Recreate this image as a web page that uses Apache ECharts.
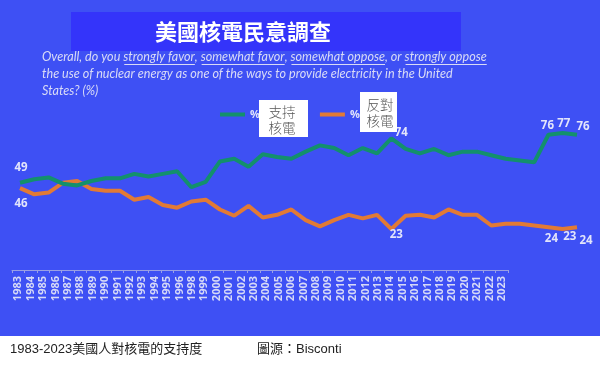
<!DOCTYPE html>
<html>
<head>
<meta charset="utf-8">
<script src="https://cdn.jsdelivr.net/npm/echarts@6/dist/echarts.min.js"></script>
<style>html,body{margin:0;padding:0;background:#fff}#c{width:600px;height:368px}</style>
</head>
<body>
<div id="c"></div>
<script>
// ---- data ----
const years = ['1983','1984','1985','1986','1987','1988','1989','1990','1991','1992','1993','1994','1995','1996',
  '1998','1999','2000','2001','2002','2003','2004','2005','2006','2007','2008','2009','2010','2011','2012','2013',
  '2014','2015','2016','2017','2018','2019','2020','2021','2022','2023'];
const support = [49,51,52,48.5,47.5,50,51.5,51.5,54,52.5,54,55.5,46.5,49.5,
  61,62.5,58,65,63.5,62.5,66.5,70,68.5,64.5,68.5,65.5,74,68,65.5,68,64.5,66.5,66.5,64.5,62.5,61.5,60.5,76,77,76];
const oppose = [46,42.5,43.5,49,50,45.5,44.5,44.5,39.5,41,36.5,35,38.5,39.5,
  34,30.5,36,29.5,31,34,28,24.5,28,31,29,31,23,30.5,31,29.5,34,31,31,25,26,26,25,24,23,24];
const supportName = '支持核電';
const opposeName = '反對核電';
const titleText = '美國核電民意調查';
const captionText = '1983-2023美國人對核電的支持度';
const sourceText = '圖源：Bisconti';
const subtitleLines = [
  [['Overall, do you ',0],['strongly favor',1],[', ',0],['somewhat favor',1],[', ',0],['somewhat oppose',1],[', or ',0],['strongly oppose',1]],
  [['the use of nuclear energy as one of the ways to provide electricity in the United',0]],
  [['States? (%)',0]]
];
// labelled points: index -> [position, distance, dx]
const supportLabels = {0:['top',9,1],26:['top',0,10],37:['top',3,-1],38:['top',3,1],39:['top',2,6]};
const opposeLabels = {0:['bottom',10,1],26:['bottom',0,5],37:['bottom',5,3],38:['bottom',2,7],39:['bottom',7,9]};

// ---- styles ----
const BG = '#3e50f4';
const GREEN = '#13906c';
const ORANGE = '#e27a35';
const LIGHT = '#e2e4fb';

function buildData(vals, labels) {
  return vals.map((v, i) => {
    const l = labels[i];
    if (!l) return v;
    return {value: v, label: {show: true, position: l[0], distance: l[1], offset: [l[2], 0]}};
  });
}

// subtitle graphics (measured at runtime)
function subtitleGraphics() {
  const ctx = document.createElement('canvas').getContext('2d');
  const fam = 'Lato, "Open Sans", sans-serif';
  ctx.font = 'italic 12px ' + fam;
  const w12 = ctx.measureText(subtitleLines[0].map(s => s[0]).join('')).width;
  const fs = 12 * 444 / w12;
  const font = 'italic ' + fs.toFixed(2) + 'px ' + fam;
  ctx.font = font;
  const out = [];
  const x0 = 42, ys = [57, 74, 91];
  subtitleLines.forEach((segs, li) => {
    let x = x0;
    segs.forEach(([t, u]) => {
      const w = ctx.measureText(t).width;
      out.push({type: 'text', x: x, y: ys[li], z: 50,
        style: {text: t, font: font, fill: '#d9dbf6', align: 'left', verticalAlign: 'middle'}});
      if (u) {
        out.push({type: 'line', z: 50, shape: {x1: x + 1, y1: ys[li] + 7.5, x2: x + w, y2: ys[li] + 7.5},
          style: {stroke: '#d9dbf6', lineWidth: 1}});
      }
      x += w;
    });
  });
  return out;
}

const chart = echarts.init(document.getElementById('c'), null, {renderer: 'canvas'});
const labelStyle = {color: LIGHT, fontSize: 11.5, fontWeight: 'bold', fontFamily: '"Open Sans", sans-serif'};

chart.setOption({
  backgroundColor: BG,
  animation: false,
  legend: {
    left: 215, top: 104, itemWidth: 25, itemHeight: 4, itemGap: 60, icon: 'rect',
    selectedMode: false, formatter: () => '%',
    data: [supportName, opposeName],
    textStyle: {color: LIGHT, fontSize: 11, fontWeight: 'bold', fontFamily: '"Open Sans", sans-serif'}
  },
  grid: [
    {left: 20, right: 23, top: 92, bottom: 98},
    {left: 12, width: 496, top: 92, bottom: 98}
  ],
  xAxis: [
    {type: 'category', gridIndex: 0, data: years, boundaryGap: false, show: false},
    {type: 'category', gridIndex: 1, data: years, boundaryGap: true,
      axisLine: {lineStyle: {color: '#9aa0e4', width: 1}},
      axisTick: {show: true, length: 3, lineStyle: {color: '#9aa0e4'}},
      axisLabel: {rotate: 90, interval: 0, margin: 6, color: '#d6d9f7', fontSize: 11, fontWeight: 'bold',
        fontFamily: '"Open Sans", sans-serif'}}
  ],
  yAxis: [
    {type: 'value', gridIndex: 0, min: 0, max: 100, show: false},
    {type: 'value', gridIndex: 1, min: 0, max: 100, show: false}
  ],
  series: [
    {name: supportName, type: 'line', xAxisIndex: 0, yAxisIndex: 0, data: buildData(support, supportLabels),
      symbol: 'circle', symbolSize: 0.1, showSymbol: true, showAllSymbol: true, itemStyle: {color: GREEN},
      lineStyle: {color: GREEN, width: 4}, label: Object.assign({show: false}, labelStyle), z: 3},
    {name: opposeName, type: 'line', xAxisIndex: 0, yAxisIndex: 0, data: buildData(oppose, opposeLabels),
      symbol: 'circle', symbolSize: 0.1, showSymbol: true, showAllSymbol: true, itemStyle: {color: ORANGE},
      lineStyle: {color: ORANGE, width: 4}, label: Object.assign({show: false}, labelStyle), z: 2}
  ],
  graphic: [
    {type: 'rect', z: 40, shape: {x: 71, y: 12, width: 390, height: 39}, style: {fill: '#3434fa'}},
    {type: 'text', z: 41, x: 243, y: 32,
      style: {text: titleText, font: 'bold 22px "Noto Sans CJK TC", sans-serif', fill: '#ffffff', align: 'center', verticalAlign: 'middle'}},
    {type: 'rect', z: 100, shape: {x: 259, y: 100, width: 49, height: 37}, style: {fill: '#ffffff'}},
    {type: 'text', z: 101, x: 282, y: 120,
      style: {text: '支持\n核電', font: '300 13.5px "Noto Sans CJK TC", sans-serif', lineHeight: 16, fill: '#555555', align: 'center', verticalAlign: 'middle'}},
    {type: 'rect', z: 100, shape: {x: 360, y: 92, width: 37, height: 40}, style: {fill: '#ffffff'}},
    {type: 'text', z: 101, x: 380, y: 113,
      style: {text: '反對\n核電', font: '300 13.5px "Noto Sans CJK TC", sans-serif', lineHeight: 16, fill: '#555555', align: 'center', verticalAlign: 'middle'}},
    {type: 'rect', z: 100, shape: {x: 0, y: 336, width: 600, height: 32}, style: {fill: '#ffffff'}},
    {type: 'text', z: 101, x: 10, y: 349,
      style: {text: captionText, font: '13px "Liberation Sans", "Noto Sans CJK TC", sans-serif', fill: '#222222', align: 'left', verticalAlign: 'middle'}},
    {type: 'text', z: 101, x: 257, y: 349,
      style: {text: sourceText, font: '13px "Liberation Sans", "Noto Sans CJK TC", sans-serif', fill: '#222222', align: 'left', verticalAlign: 'middle'}}
  ].concat(subtitleGraphics())
});
</script>
</body>
</html>
